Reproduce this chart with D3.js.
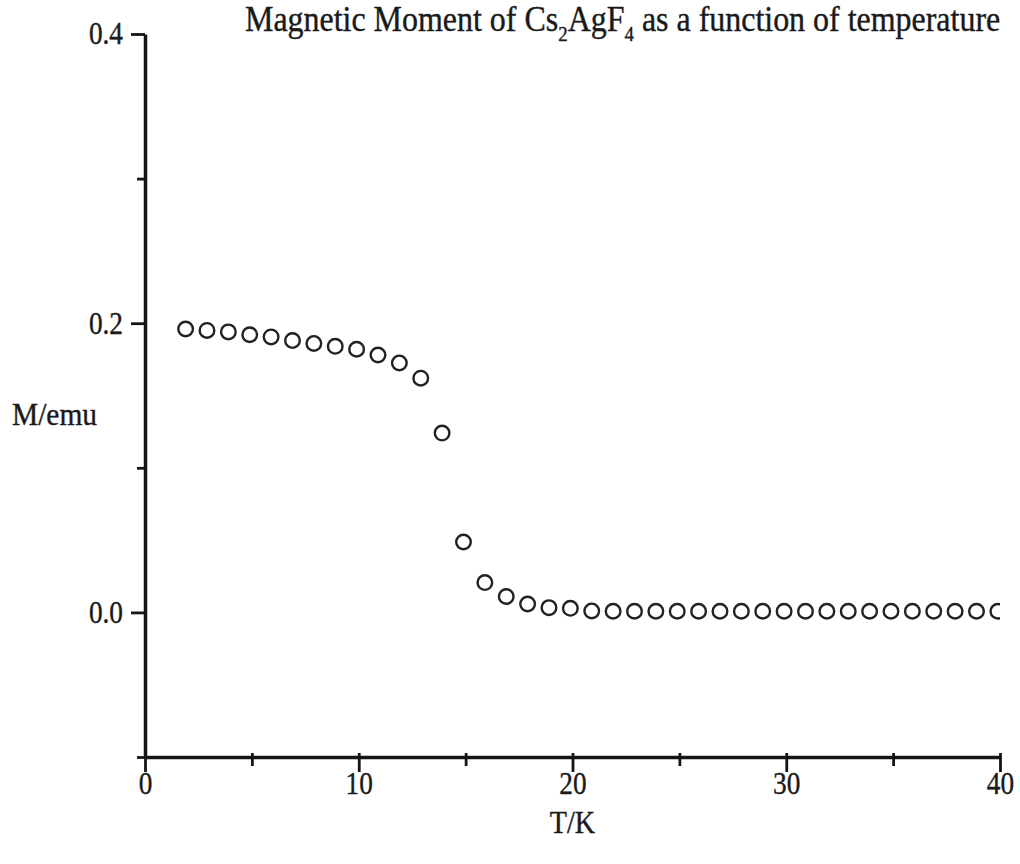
<!DOCTYPE html>
<html>
<head>
<meta charset="utf-8">
<script src="https://cdn.jsdelivr.net/npm/d3@7"></script>
<style>
  html, body { margin: 0; padding: 0; background: #fff; }
  svg { display: block; }
  text { font-family: "Liberation Serif", "Times New Roman", serif; fill: #1a1a1a; stroke: #1a1a1a; stroke-width: 0.4px; }
</style>
</head>
<body>
<svg id="chart" width="1020" height="864"></svg>
<script>
// Temperature (K) and magnetic moment (emu)
const temperature = [1.9, 2.9, 3.9, 4.9, 5.9, 6.9, 7.9, 8.9, 9.9, 10.9, 11.9, 12.9, 13.9, 14.9, 15.9, 16.9, 17.9, 18.9, 19.9,
  20.9, 21.9, 22.9, 23.9, 24.9, 25.9, 26.9, 27.9, 28.9, 29.9, 30.9, 31.9, 32.9, 33.9, 34.9, 35.9, 36.9, 37.9, 38.9, 39.9];
const moment = [0.196, 0.195, 0.194, 0.192, 0.1905, 0.188, 0.186, 0.184, 0.182, 0.178, 0.1725, 0.162, 0.124,
  0.0487, 0.0206, 0.011, 0.0058, 0.0033, 0.0028,
  0.001, 0.0008, 0.0008, 0.0008, 0.0008, 0.0008, 0.0008, 0.0008, 0.0008, 0.0008, 0.0008,
  0.0008, 0.0008, 0.0008, 0.0008, 0.0008, 0.0008, 0.0008, 0.0008, 0.0008];

const xTicks = [0, 5, 10, 15, 20, 25, 30, 35, 40];
const xTickLabels = ['0', '', '10', '', '20', '', '30', '', '40'];
const yTicks = [-0.1, 0, 0.1, 0.2, 0.3, 0.4];
const yTickLabels = ['', '0.0', '', '0.2', '', '0.4'];

const svg = d3.select('#chart');

const x = d3.scaleLinear().domain([0, 40]).range([145, 1000]);
const y = d3.scaleLinear().domain([-0.1, 0.4]).range([757, 34]);

const axisColor = '#151515';
const squeeze = 0.88; // the scanned lettering is narrower than plain Times

// Clip the markers to the plotting region (last point is cut off at the right)
svg.append('defs').append('clipPath')
  .attr('id', 'plot-clip')
  .append('rect')
  .attr('x', x(0))
  .attr('y', y(0.4) - 20)
  .attr('width', x(40) - x(0))
  .attr('height', y(-0.1) - y(0.4) + 20);

// X axis
const xAxis = d3.axisBottom(x)
  .tickValues(xTicks)
  .tickSizeOuter(0)
  .tickFormat((d, i) => xTickLabels[i]);

const gx = svg.append('g')
  .attr('transform', `translate(0,${y(-0.1)})`)
  .call(xAxis);

gx.select('.domain').attr('stroke', axisColor).attr('stroke-width', 3.5);
gx.selectAll('.tick line')
  .attr('stroke', axisColor)
  .attr('stroke-width', 2.8)
  .attr('y1', -4)
  .attr('y2', (d, i) => xTickLabels[i] ? 15 : 9);
gx.selectAll('.tick text')
  .attr('fill', axisColor)
  .attr('y', 0)
  .attr('dy', null)
  .attr('transform', `translate(0,37) scale(${squeeze},1)`)
  .style('font-size', '31px')
  .style('font-family', '"Liberation Serif", serif');

// Y axis
const yAxis = d3.axisLeft(y)
  .tickValues(yTicks)
  .tickSizeOuter(0)
  .tickFormat((d, i) => yTickLabels[i]);

const gy = svg.append('g')
  .attr('transform', `translate(${x(0)},0)`)
  .call(yAxis);

gy.select('.domain').attr('stroke', axisColor).attr('stroke-width', 3.5);
gy.selectAll('.tick line')
  .attr('stroke', axisColor)
  .attr('stroke-width', 2.8)
  .attr('x2', (d, i) => yTickLabels[i] ? -14 : -8);
gy.selectAll('.tick text')
  .attr('fill', axisColor)
  .attr('x', 0)
  .attr('transform', `translate(-22,0) scale(${squeeze},1)`)
  .style('font-size', '31px')
  .style('font-family', '"Liberation Serif", serif');

// Open circle markers
svg.append('g')
  .attr('clip-path', 'url(#plot-clip)')
  .selectAll('circle')
  .data(temperature)
  .join('circle')
  .attr('cx', d => x(d))
  .attr('cy', (d, i) => y(moment[i]))
  .attr('r', 7.3)
  .attr('fill', 'none')
  .attr('stroke', '#222')
  .attr('stroke-width', 2.4);

// Axis titles
svg.append('text')
  .attr('transform', 'translate(12,425) scale(0.95,1)')
  .style('font-size', '31px')
  .text('M/emu');

svg.append('text')
  .attr('transform', `translate(${x(20)},833) scale(${squeeze},1)`)
  .attr('text-anchor', 'middle')
  .style('font-size', '32px')
  .text('T/K');

// Chart title with subscripts
const title = svg.append('text')
  .attr('transform', 'translate(245,31) scale(0.9,1)')
  .style('font-size', '35.5px');
title.append('tspan').text('Magnetic Moment of Cs');
title.append('tspan').attr('dy', 10).style('font-size', '21px').text('2');
title.append('tspan').attr('dy', -10).text('AgF');
title.append('tspan').attr('dy', 10).style('font-size', '21px').text('4');
title.append('tspan').attr('dy', -10).text(' as a function of temperature');
</script>
</body>
</html>
